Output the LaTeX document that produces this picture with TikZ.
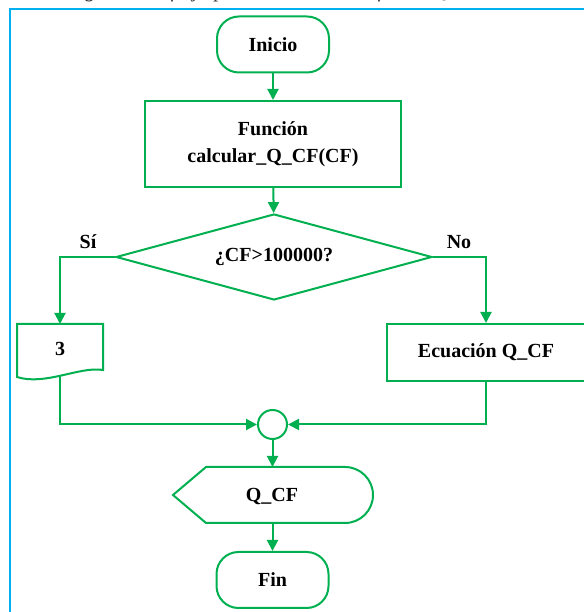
\documentclass[tikz,border=0pt]{standalone}
\usepackage{fontspec}
\setmainfont{Liberation Serif}
\usetikzlibrary{shapes.geometric,arrows.meta}
\definecolor{flowgreen}{HTML}{00B050}
\definecolor{framecyan}{HTML}{00B0F0}
\begin{document}
\begin{tikzpicture}[x=1pt,y=1pt,
  every node/.style={font=\fontsize{20}{27}\selectfont\bfseries, text=black},
  box/.style={draw=flowgreen, line width=2pt, inner sep=0pt},
  terminal/.style={box, rectangle, rounded corners=22pt, minimum width=112pt, minimum height=56pt},
  process/.style={box, rectangle, minimum width=256pt, minimum height=86pt, align=center},
  decision/.style={box, diamond, aspect=3.67, minimum width=316pt, minimum height=86pt},
  ghost/.style={rectangle, inner sep=0pt, outer sep=0pt},
  flow/.style={draw=flowgreen, line width=2pt},
  arrow/.style={flow, -{Triangle[width=11pt,length=11pt]}},
  caption/.style={font=\fontsize{21}{25}\selectfont\itshape, text=black!80, anchor=base west, inner sep=0pt}
]
\useasboundingbox (0,0) rectangle (583,612);

% caption line above the frame (only its descenders reach the page)
\node[caption] (cap) at (54,614.5) {Diagrama de flujo para el cálculo del factor Q\_CF};

% frame around the chart
\draw[framecyan, line width=2pt] (10,-10) rectangle (600,603);

% nodes
\node[terminal] (ini) at (273,567.5) {Inicio};
\node[process] (fun) at (273,468) {Función\\calcular\_Q\_CF(CF)};
\node[decision] (dec) at (274,355) {¿CF>100000?};
\node[ghost, minimum width=86pt, minimum height=51pt] (doc) at (60,262.5) {};
\node at (60,263) {3};
\node[box, rectangle, minimum width=198pt, minimum height=57pt] (ecu) at (486,259.5) {Ecuación Q\_CF};
\node[box, circle, minimum size=29pt] (cir) at (272.5,187.5) {};
\node[ghost, minimum width=200pt, minimum height=56pt] (disp) at (273,117) {};
\node at (272,115) {Q\_CF};
\node[terminal] (fin) at (272.5,32) {Fin};

% document shape with wavy bottom
\draw[flow, line join=miter] (doc.north west) -- (doc.north east)
  -- ([yshift=5pt]doc.south east)
  .. controls ([shift={(-23pt,9pt)}]doc.south east) and ([shift={(-58pt,-11pt)}]doc.south east)
  .. ([yshift=-2pt]doc.south west) -- cycle;

% display shape
\draw[flow] (disp.west) -- ([xshift=33pt]disp.north west)
  -- ([xshift=-28pt]disp.north east) arc[start angle=90, end angle=-90, radius=28pt]
  -- ([xshift=33pt]disp.south west) -- cycle;

% branch labels
\node (si) at (88,370) {Sí};
\node (no) at (459,370) {No};

% connectors
\draw[arrow] (ini) -- (fun);
\draw[arrow] (fun) -- (dec);
\draw[arrow] (dec.west) -| (doc.north);
\draw[arrow] (dec.east) -| (ecu.north);
\draw[arrow] (doc.south) |- (cir.west);
\draw[arrow] (ecu.south) |- (cir.east);
\draw[arrow] (cir.south) -- (cir.south |- disp.north);
\draw[arrow] (disp.south -| fin.north) -- (fin.north);
\end{tikzpicture}
\end{document}
